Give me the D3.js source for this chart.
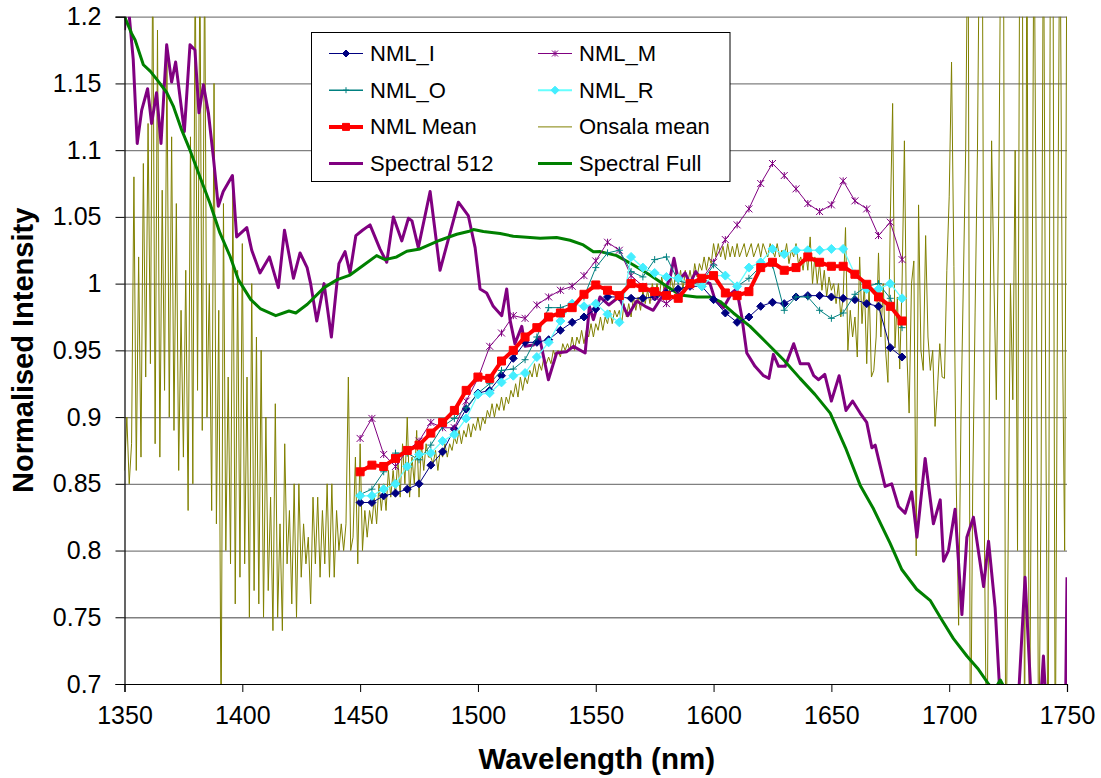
<!DOCTYPE html>
<html>
<head>
<meta charset="utf-8">
<script src="https://cdn.jsdelivr.net/npm/d3@7"></script>
<style>
body { margin: 0; background: #fff; }
text { font-family: Arial, "Liberation Sans", sans-serif; }
</style>
</head>
<body>
<svg id="chart" width="1101" height="778"></svg>
<script>
// ---- data ----
var xTicks = [1350, 1400, 1450, 1500, 1550, 1600, 1650, 1700, 1750];
var yTicks = [0.7, 0.75, 0.8, 0.85, 0.9, 0.95, 1, 1.05, 1.1, 1.15, 1.2];

// NML measurements, every 5 nm
var nmlWave = [1450,1455,1460,1465,1470,1475,1480,1485,1490,1495,
               1500,1505,1510,1515,1520,1525,1530,1535,1540,1545,
               1550,1555,1560,1565,1570,1575,1580,1585,1590,1595,
               1600,1605,1610,1615,1620,1625,1630,1635,1640,1645,
               1650,1655,1660,1665,1670,1675,1680];
var nmlI = [0.836,0.836,0.841,0.843,0.846,0.850,0.864,0.874,0.891,0.906,
            0.918,0.920,0.931,0.944,0.956,0.956,0.958,0.965,0.971,0.975,
            0.981,0.990,0.990,0.989,0.989,0.990,0.993,0.996,0.998,0.998,
            0.988,0.978,0.971,0.975,0.983,0.986,0.985,0.990,0.991,0.991,
            0.990,0.989,0.988,0.985,0.983,0.952,0.945];
var nmlM = [0.884,0.899,0.872,0.863,0.875,0.882,0.896,0.892,0.892,0.912,
            0.929,0.953,0.963,0.976,0.974,0.984,0.990,0.995,0.998,1.006,
            1.017,1.031,1.025,1.006,0.998,0.990,0.985,0.992,0.998,1.003,
            1.016,1.033,1.044,1.056,1.075,1.090,1.081,1.071,1.060,1.054,
            1.059,1.077,1.062,1.056,1.036,1.046,1.018];
var nmlO = [0.842,0.846,0.859,0.873,0.873,0.868,0.879,0.893,0.899,0.907,
            0.918,0.925,0.935,0.936,0.943,0.960,0.982,0.982,0.985,0.990,
            1.012,1.023,1.025,1.009,1.005,1.018,1.020,1.002,1.000,1.001,
            1.014,1.006,0.998,1.004,1.013,1.014,0.980,0.990,0.990,0.980,
            0.974,0.978,0.992,0.998,1.000,0.989,0.967];
var nmlR = [0.841,0.841,0.846,0.850,0.863,0.872,0.873,0.882,0.887,0.899,
            0.917,0.918,0.926,0.931,0.933,0.945,0.956,0.972,0.985,0.983,
            0.985,0.977,0.971,1.020,1.012,1.008,1.005,1.004,1.000,0.998,
            1.006,1.006,0.998,1.012,1.016,1.026,1.022,1.025,1.025,1.025,
            1.026,1.026,1.007,0.996,0.996,1.000,0.989];
var nmlMean = [0.859,0.864,0.863,0.869,0.875,0.879,0.888,0.896,0.905,0.920,
               0.930,0.929,0.942,0.950,0.960,0.967,0.975,0.978,0.982,0.992,
               0.999,0.995,0.991,1.000,0.997,0.994,0.991,0.989,1.000,1.004,
               1.006,0.993,0.991,0.994,1.012,1.016,1.010,1.012,1.020,1.016,
               1.013,1.013,1.007,0.9995,0.990,0.983,0.972];

// Onsala mean, one value per nm from 1350 to 1750 (off-scale values go past the axis)
var onsalaStart = 1350;
var onsalaVal = [
  0.86,0.90,0.85,0.88,1.08,0.86,1.02,0.87,1.09,0.93,   // 1350
  1.12,0.94,1.25,0.88,1.19,0.87,1.07,0.92,1.17,0.90,   // 1360
  1.11,0.89,1.06,0.86,0.98,0.87,1.01,0.83,1.11,0.85,   // 1370
  1.25,0.92,1.25,0.89,1.25,0.90,1.00,0.83,1.15,0.82,   // 1380
  0.98,0.66,1.06,0.80,0.93,0.79,1.07,0.76,1.01,0.78,   // 1390
  1.03,0.79,0.93,0.75,1.00,0.77,0.96,0.76,0.95,0.75,   // 1400
  0.90,0.77,0.84,0.74,0.91,0.75,0.82,0.74,0.88,0.79,   // 1410
  0.83,0.76,0.85,0.75,0.85,0.78,0.82,0.79,0.81,0.76,   // 1420
  0.84,0.79,0.84,0.78,0.83,0.79,0.85,0.78,0.85,0.78,   // 1430
  0.83,0.80,0.82,0.80,0.82,0.93,0.80,0.81,0.87,0.79,   // 1440
  0.88,0.80,0.83,0.81,0.83,0.82,0.84,0.82,0.85,0.83,   // 1450
  0.85,0.83,0.86,0.84,0.86,0.84,0.87,0.84,0.88,0.85,   // 1460
  0.90,0.84,0.87,0.85,0.89,0.84,0.88,0.86,0.88,0.87,   // 1470
  0.87,0.865,0.875,0.86,0.875,0.87,0.88,0.87,0.88,0.875,  // 1480
  0.885,0.88,0.89,0.88,0.89,0.885,0.895,0.885,0.895,0.89, // 1490
  0.90,0.89,0.90,0.895,0.905,0.90,0.91,0.90,0.91,0.905,   // 1500
  0.915,0.905,0.915,0.91,0.92,0.915,0.925,0.915,0.93,0.92,// 1510
  0.93,0.925,0.935,0.93,0.94,0.93,0.94,0.935,0.945,0.94,  // 1520
  0.945,0.94,0.95,0.945,0.95,0.945,0.955,0.95,0.955,0.95, // 1530
  0.96,0.95,0.96,0.955,0.965,0.955,0.965,0.96,0.97,0.96,  // 1540
  0.97,0.965,0.975,0.965,0.975,0.97,0.98,0.97,0.98,0.975, // 1550
  0.98,0.97,0.985,0.975,0.985,0.975,0.99,0.98,0.99,0.98,  // 1560
  0.995,0.985,0.995,0.985,1.00,0.99,1.00,0.99,1.005,0.995,// 1570
  1.00,0.99,1.005,0.995,1.01,1.00,1.01,0.995,1.01,1.00,   // 1580
  1.01,1.00,1.015,1.005,1.015,1.01,1.02,1.01,1.02,1.015,  // 1590
  1.03,1.02,1.03,1.02,1.028,1.018,1.03,1.02,1.028,1.02,   // 1600
  1.03,1.02,1.025,1.03,1.02,1.025,1.03,1.02,1.025,1.03,   // 1610
  1.02,1.03,1.025,1.02,1.03,1.025,1.02,1.03,1.02,1.025,   // 1620
  1.02,1.03,1.015,1.025,1.02,1.03,1.015,1.02,1.01,1.025,  // 1630
  1.01,1.035,1.00,1.02,1.00,1.015,0.995,1.01,0.99,1.005,  // 1640
  0.995,1.00,0.985,1.00,0.975,0.99,1.042,0.95,0.98,0.96,  // 1650
  0.975,0.945,1.02,0.97,1.00,0.94,1.00,0.93,0.935,0.96,   // 1660
  1.023,0.96,1.00,0.95,0.926,1.047,1.135,0.952,0.99,0.936,// 1670
  1.00,1.107,0.95,0.903,1.00,1.017,0.796,1.059,0.95,0.935,// 1680
  1.036,0.96,0.935,0.95,0.893,0.92,0.955,0.93,0.929,1.01, // 1690
  1.065,1.166,1.013,0.85,0.744,0.90,1.00,1.10,1.30,0.62,  // 1700
  0.85,0.978,1.10,1.30,1.30,0.80,0.62,0.90,1.107,1.00,    // 1710
  0.913,1.05,1.30,1.30,0.62,0.80,1.00,0.913,1.10,0.80,    // 1720
  1.30,1.30,0.62,1.30,0.62,0.90,1.30,1.00,0.62,0.848,     // 1730
  1.30,0.90,0.62,1.30,1.30,0.62,1.00,1.30,0.975,0.80,     // 1740
  1.30];                                                   // 1750

// Spectral 512
var s512Wave = [1350,1350.8,1351.8,1353.7,1355.4,1357.3,1359.8,1361.5,1363.6,1365.5,
                1367.9,1370,1371.7,1375.4,1377.8,1379.9,1381.6,1383.5,1385.6,1387.7,
                1389.8,1391.9,1395.8,1397.6,1401.9,1404,1407.5,1411.5,1415.3,1417.9,
                1421.7,1424.5,1427.5,1429,1431.6,1434.7,1437.8,1441,1443.6,1445.7,
                1448.2,1451,1454.2,1458.4,1461.3,1464.1,1467.7,1470.5,1472,1474.7,
                1479.7,1483.9,1491.7,1495.9,1498.8,1500.9,1503.7,1506.5,1510.1,1512.2,
                1513.6,1515.7,1518.6,1520,1523.5,1526.1,1529.9,1533.4,1537.7,1540.5,
                1545.5,1547.3,1549,1551.8,1555.5,1559.8,1563.6,1567.4,1571,1574.4,
                1578,1581.5,1583.2,1585.1,1587.9,1590,1592.4,1595,1598.5,1600.6,
                1604.2,1607.7,1609.8,1612,1614.1,1617.6,1621.2,1623.5,1625.4,1627.6,
                1630.4,1634,1636.8,1640.3,1642.5,1644.6,1647.2,1650,1653.3,1656.2,
                1659,1662.2,1665,1667.2,1668.6,1672.8,1675.6,1678.5,1681.3,1684.1,
                1686.3,1689.8,1693.3,1696.2,1697.6,1699.7,1702.5,1705.4,1707.5,1710.3,
                1714.6,1716.7,1719.5,1721.6,1724.5,1728.5,1732.2,1735.6,1738.2,1740,
                1741.8,1746,1749.5,1750];
var s512Val = [1.19,1.21,1.205,1.168,1.105,1.13,1.146,1.12,1.143,1.105,
               1.179,1.151,1.166,1.114,1.179,1.175,1.128,1.149,1.128,1.095,
               1.058,1.069,1.081,1.035,1.042,1.025,1.008,1.02,0.997,1.04,
               1.004,1.023,1.012,1.0,0.972,1.0,0.96,1.015,1.024,1.008,
               1.036,1.04,1.044,1.026,1.016,1.05,1.032,1.049,1.047,1.027,
               1.069,1.01,1.061,1.051,1.027,0.996,0.993,0.983,0.976,0.996,
               0.973,0.955,0.968,0.953,0.954,0.96,0.928,0.948,0.949,0.953,
               0.948,0.983,0.973,0.99,0.984,0.99,0.976,0.987,0.983,0.98,
               0.99,1.004,1.019,1.002,1.008,1.0,1.009,1.003,1.0,0.988,
               0.982,0.993,0.996,0.975,0.948,0.938,0.931,0.929,0.947,0.938,
               0.938,0.955,0.94,0.94,0.931,0.928,0.932,0.912,0.931,0.905,
               0.912,0.903,0.896,0.877,0.879,0.848,0.85,0.833,0.828,0.844,
               0.81,0.869,0.82,0.838,0.792,0.80,0.831,0.752,0.81,0.825,
               0.773,0.807,0.757,0.69,0.65,0.66,0.78,0.66,0.67,0.721,
               0.66,0.65,0.70,0.78];

// Spectral Full
var sFullWave = [1350,1351,1353,1354.5,1358,1361,1363.7,1368,1370.7,1374.3,
                 1377.8,1382,1386.3,1390.5,1394.8,1398.3,1403.6,1407.8,1414.2,1419.8,
                 1422.7,1427.6,1434.7,1440.3,1445.7,1451.4,1457,1460.6,1465.5,1469.8,
                 1475.4,1483.9,1491,1495.9,1498.1,1502.3,1509.4,1515,1526.4,1533.4,
                 1539.1,1544.7,1549,1552,1558.9,1566,1573,1580.1,1585.8,1592.9,
                 1598.5,1602.8,1608.4,1615.5,1622.6,1629.7,1636.7,1643,1649.5,1656,
                 1662.2,1667.8,1674.9,1679.8,1686.2,1691.9,1696.9,1701.8,1707.5,1712.4,
                 1716.7,1719,1721.7,1723.5,1726,1735];
var sFullVal = [1.2,1.196,1.1875,1.1825,1.164,1.159,1.153,1.143,1.133,1.115,
                1.1,1.08,1.06,1.038,1.0205,1.003,0.988,0.981,0.976,0.9795,
                0.978,0.9845,0.997,1.003,1.0064,1.0138,1.021,1.018,1.02,1.0243,
                1.026,1.0325,1.037,1.039,1.0405,1.039,1.0375,1.0355,1.034,1.0345,
                1.0325,1.029,1.0238,1.024,1.021,1.014,1.0065,0.998,0.9915,0.990,
                0.990,0.9866,0.978,0.968,0.9555,0.943,0.929,0.917,0.903,0.877,
                0.849,0.8315,0.8055,0.786,0.771,0.7627,0.748,0.734,0.721,0.711,
                0.70,0.695,0.703,0.697,0.68,0.64];

// ---- layout ----
var W = 1101, H = 778;
var pLeft = 124.5, pRight = 1067, pTop = 16.7, pBottom = 684;

var x = d3.scaleLinear().domain([1350, 1750]).range([pLeft, pRight]);
var y = d3.scaleLinear().domain([0.7, 1.2]).range([pBottom, pTop]);

var svg = d3.select("#chart");
svg.append("rect").attr("width", W).attr("height", H).attr("fill", "#fff");

svg.append("defs").append("clipPath").attr("id", "plotClip")
  .append("rect")
  .attr("x", pLeft).attr("y", pTop)
  .attr("width", pRight - pLeft).attr("height", pBottom - pTop);

// gridlines
svg.append("g")
  .attr("transform", "translate(" + pLeft + ",0)")
  .call(d3.axisLeft(y).tickValues(yTicks.slice(1)).tickSize(-(pRight - pLeft)).tickFormat(""))
  .call(function(g) {
    g.select(".domain").remove();
    g.selectAll("line").attr("stroke", "#808080").attr("stroke-width", 1.3);
  });

// ---- markers ----
function markerPath(type, s) {
  if (type == "diamond") return "M0," + (-s) + "L" + s + ",0L0," + s + "L" + (-s) + ",0Z";
  if (type == "square") return "M" + (-s) + "," + (-s) + "h" + (2 * s) + "v" + (2 * s) + "h" + (-2 * s) + "Z";
  if (type == "plus") return "M" + (-s) + ",0h" + (2 * s) + "M0," + (-s) + "v" + (2 * s);
  if (type == "star") return "M" + (-s) + "," + (-s) + "L" + s + "," + s + "M" + (-s) + "," + s + "L" + s + "," + (-s) + "M0," + (-s) + "v" + (2 * s);
  return "";
}

var series = [
  { name: "NML_I",  vals: nmlI,    color: "#000080", width: 1,   marker: "diamond", ms: 4,   mfill: "#000080" },
  { name: "NML_M",  vals: nmlM,    color: "#800080", width: 1,   marker: "star",    ms: 3.5, mfill: "none" },
  { name: "NML_O",  vals: nmlO,    color: "#008080", width: 1,   marker: "plus",    ms: 3.5, mfill: "none" },
  { name: "NML_R",  vals: nmlR,    color: "#66ffff", width: 1.3, marker: "diamond", ms: 4.5, mfill: "#44eeff" },
  { name: "NML Mean", vals: nmlMean, color: "#ff0000", width: 4, marker: "square",  ms: 4,   mfill: "#ff0000" }
];

var line = d3.line().x(function(d) { return x(d[0]); }).y(function(d) { return y(d[1]); });
var plot = svg.append("g").attr("clip-path", "url(#plotClip)");

// Onsala mean
var onsala = onsalaVal.map(function(v, i) { return [onsalaStart + i, v]; });
plot.append("path").datum(onsala)
  .attr("d", line).attr("fill", "none")
  .attr("stroke", "#808000").attr("stroke-width", 1);

// Spectral 512 and Spectral Full
plot.append("path").datum(s512Wave.map(function(w, i) { return [w, s512Val[i]]; }))
  .attr("d", line).attr("fill", "none")
  .attr("stroke", "#800080").attr("stroke-width", 3).attr("stroke-linejoin", "round");

plot.append("path").datum(sFullWave.map(function(w, i) { return [w, sFullVal[i]]; }))
  .attr("d", line).attr("fill", "none")
  .attr("stroke", "#008000").attr("stroke-width", 3).attr("stroke-linejoin", "round");

// NML series with markers
series.forEach(function(s) {
  var pts = nmlWave.map(function(w, i) { return [w, s.vals[i]]; });
  var g = plot.append("g");
  g.append("path").datum(pts)
    .attr("d", line).attr("fill", "none")
    .attr("stroke", s.color).attr("stroke-width", s.width);
  g.selectAll("path.mk").data(pts).join("path")
    .attr("class", "mk")
    .attr("transform", function(d) { return "translate(" + x(d[0]) + "," + y(d[1]) + ")"; })
    .attr("d", markerPath(s.marker, s.ms))
    .attr("fill", s.mfill)
    .attr("stroke", s.mfill == "none" ? s.color : s.mfill)
    .attr("stroke-width", 1);
});

// y axis
svg.append("g")
  .attr("transform", "translate(" + pLeft + ",0)")
  .call(d3.axisLeft(y).tickValues(yTicks).tickSize(9).tickPadding(14).tickFormat(function(d) { return String(d); }))
  .call(function(g) {
    g.select(".domain").attr("stroke", "#000").attr("stroke-width", 1.2);
    g.selectAll("line").attr("stroke", "#000");
    g.selectAll("text").attr("font-size", 25).attr("fill", "#000")
      .attr("font-family", "Arial, 'Liberation Sans', sans-serif");
  });

// x axis
svg.append("g")
  .attr("transform", "translate(0," + pBottom + ")")
  .call(d3.axisBottom(x).tickValues(xTicks).tickSize(8).tickPadding(14).tickFormat(d3.format("d")))
  .call(function(g) {
    g.select(".domain").attr("stroke", "#000").attr("stroke-width", 1.2);
    g.selectAll("line").attr("stroke", "#000");
    g.selectAll("text").attr("font-size", 25).attr("fill", "#000")
      .attr("font-family", "Arial, 'Liberation Sans', sans-serif");
  });

// axis titles
svg.append("text")
  .attr("x", (pLeft + pRight) / 2 + 1)
  .attr("y", 769)
  .attr("text-anchor", "middle")
  .attr("font-size", 29.5)
  .attr("font-weight", "bold")
  .text("Wavelength (nm)");

svg.append("text")
  .attr("transform", "translate(33," + ((pTop + pBottom) / 2) + ") rotate(-90)")
  .attr("text-anchor", "middle")
  .attr("font-size", 29)
  .attr("font-weight", "bold")
  .text("Normalised Intensity");

// ---- legend ----
var legendItems = [
  { name: "NML_I",        color: "#000080", width: 1,   marker: "diamond", ms: 3.5, mfill: "#000080" },
  { name: "NML_M",        color: "#800080", width: 1,   marker: "star",    ms: 3,   mfill: "none" },
  { name: "NML_O",        color: "#008080", width: 1.5, marker: "plus",    ms: 3,   mfill: "none" },
  { name: "NML_R",        color: "#66ffff", width: 2,   marker: "diamond", ms: 4,   mfill: "#44eeff" },
  { name: "NML Mean",     color: "#ff0000", width: 4,   marker: "square",  ms: 3.5, mfill: "#ff0000" },
  { name: "Onsala mean",  color: "#808000", width: 1,   marker: null },
  { name: "Spectral 512", color: "#800080", width: 3,   marker: null },
  { name: "Spectral Full",color: "#008000", width: 3,   marker: null }
];

var legend = svg.append("g");
legend.append("rect")
  .attr("x", 311.5).attr("y", 32.5)
  .attr("width", 418.5).attr("height", 149)
  .attr("fill", "#fff").attr("stroke", "#000").attr("stroke-width", 1);

legendItems.forEach(function(d, i) {
  var col = i % 2, row = Math.floor(i / 2);
  var cy = 53.5 + row * 36.7;
  var x0 = col == 0 ? 329 : 538;
  legend.append("line")
    .attr("x1", x0).attr("x2", x0 + 34)
    .attr("y1", cy).attr("y2", cy)
    .attr("stroke", d.color).attr("stroke-width", d.width);
  if (d.marker) {
    legend.append("path")
      .attr("transform", "translate(" + (x0 + 17) + "," + cy + ")")
      .attr("d", markerPath(d.marker, d.ms))
      .attr("fill", d.mfill)
      .attr("stroke", d.mfill == "none" ? d.color : d.mfill);
  }
  legend.append("text")
    .attr("x", x0 + 41).attr("y", cy + 7.5)
    .attr("font-size", 22)
    .text(d.name);
});
</script>
</body>
</html>
